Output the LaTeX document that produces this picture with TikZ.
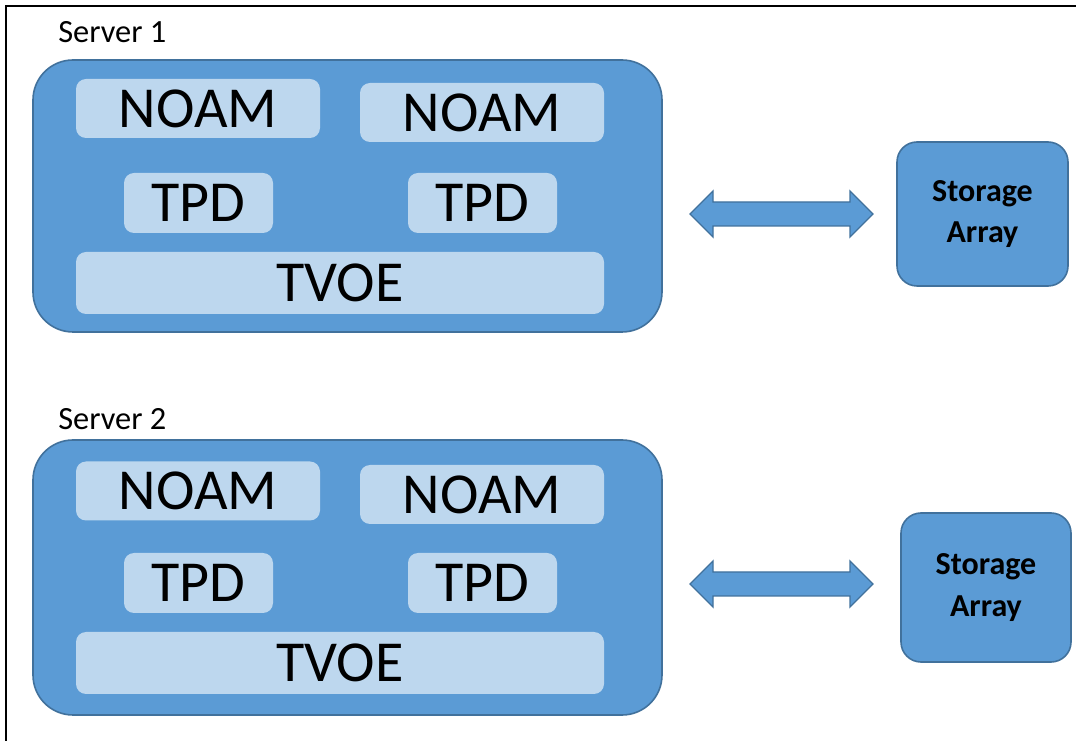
\documentclass[tikz,border=0pt]{standalone}
\usepackage{fontspec}
\setmainfont{Carlito}
\usepackage{tikz}
\usetikzlibrary{shapes}

\definecolor{srvblue}{HTML}{5B9BD5}
\definecolor{srvedge}{HTML}{41719C}
\definecolor{vmblue}{HTML}{BDD7EE}

\tikzset{
  server/.style={draw=srvedge,line width=1.2pt,fill=srvblue,rounded corners=30pt,
    minimum width=471.75pt,minimum height=204pt,inner sep=0pt},
  vmbox/.style={fill=vmblue,rounded corners=7.5pt,inner sep=0pt,
    font=\fontsize{43.5}{43.5}\selectfont},
  storage/.style={draw=srvedge,line width=1.2pt,fill=srvblue,rounded corners=15pt,
    minimum width=128.25pt,minimum height=108pt,align=center,inner sep=0pt,
    font=\fontsize{24}{31}\selectfont\bfseries},
  blkarrow/.style={draw=srvedge,line width=1pt,fill=srvblue,line join=miter},
  srvlabel/.style={anchor=base west,inner sep=0pt,font=\fontsize{24.3}{24.3}\selectfont}
}

\begin{document}
\begin{tikzpicture}[x=0.75pt,y=0.75pt,yscale=-1,xscale=1]
\useasboundingbox (0,0) rectangle (1076,741);

%Frame
\draw [line width=1pt] (6,741) -- (6,6) -- (1076,6) ;

%Server 1
\node [srvlabel] (lab1) at (58,43) {Server 1};
\node [server] (srv1) at (347.5,196) {};
\node [vmbox,minimum width=183pt,minimum height=44.25pt] (noam1a) at (198,108.5) {NOAM};
\node [vmbox,minimum width=183pt,minimum height=44.25pt] (noam1b) at (482,112.5) {NOAM};
\node [vmbox,minimum width=111.75pt,minimum height=45pt] (tpd1a) at (198.5,203) {TPD};
\node [vmbox,minimum width=111.75pt,minimum height=45pt] (tpd1b) at (482.5,203) {TPD};
\node [vmbox,minimum width=396pt,minimum height=46.5pt] (tvoe1) at (340,283) {TVOE};
\node [storage] (sto1) at (982.5,214) {Storage\\Array};

%Arrow 1
\coordinate (a1l) at (690,214);
\coordinate (a1r) at (873,214);
\draw [blkarrow] (a1l) -- ++(23,-23) -- ++(0,11) -- ++(137,0) -- ++(0,-11) -- (a1r)
  -- ++(-23,23) -- ++(0,-11) -- ++(-137,0) -- ++(0,11) -- cycle ;

%Server 2
\node [srvlabel] (lab2) at (58,430) {Server 2};
\node [server,minimum height=206.25pt] (srv2) at (347.5,577.5) {};
\node [vmbox,minimum width=183pt,minimum height=44.25pt] (noam2a) at (198,491) {NOAM};
\node [vmbox,minimum width=183pt,minimum height=44.25pt] (noam2b) at (482,494.5) {NOAM};
\node [vmbox,minimum width=111.75pt,minimum height=45pt] (tpd2a) at (198.5,583) {TPD};
\node [vmbox,minimum width=111.75pt,minimum height=45pt] (tpd2b) at (482.5,583) {TPD};
\node [vmbox,minimum width=396pt,minimum height=46.5pt] (tvoe2) at (340,663) {TVOE};
\node [storage,minimum width=127.5pt,minimum height=111.75pt] (sto2) at (986,587.5) {Storage\\Array};

%Arrow 2
\coordinate (a2l) at (690,584);
\coordinate (a2r) at (873,584);
\draw [blkarrow] (a2l) -- ++(23,-23) -- ++(0,11) -- ++(137,0) -- ++(0,-11) -- (a2r)
  -- ++(-23,23) -- ++(0,-11) -- ++(-137,0) -- ++(0,11) -- cycle ;

\end{tikzpicture}
\end{document}
